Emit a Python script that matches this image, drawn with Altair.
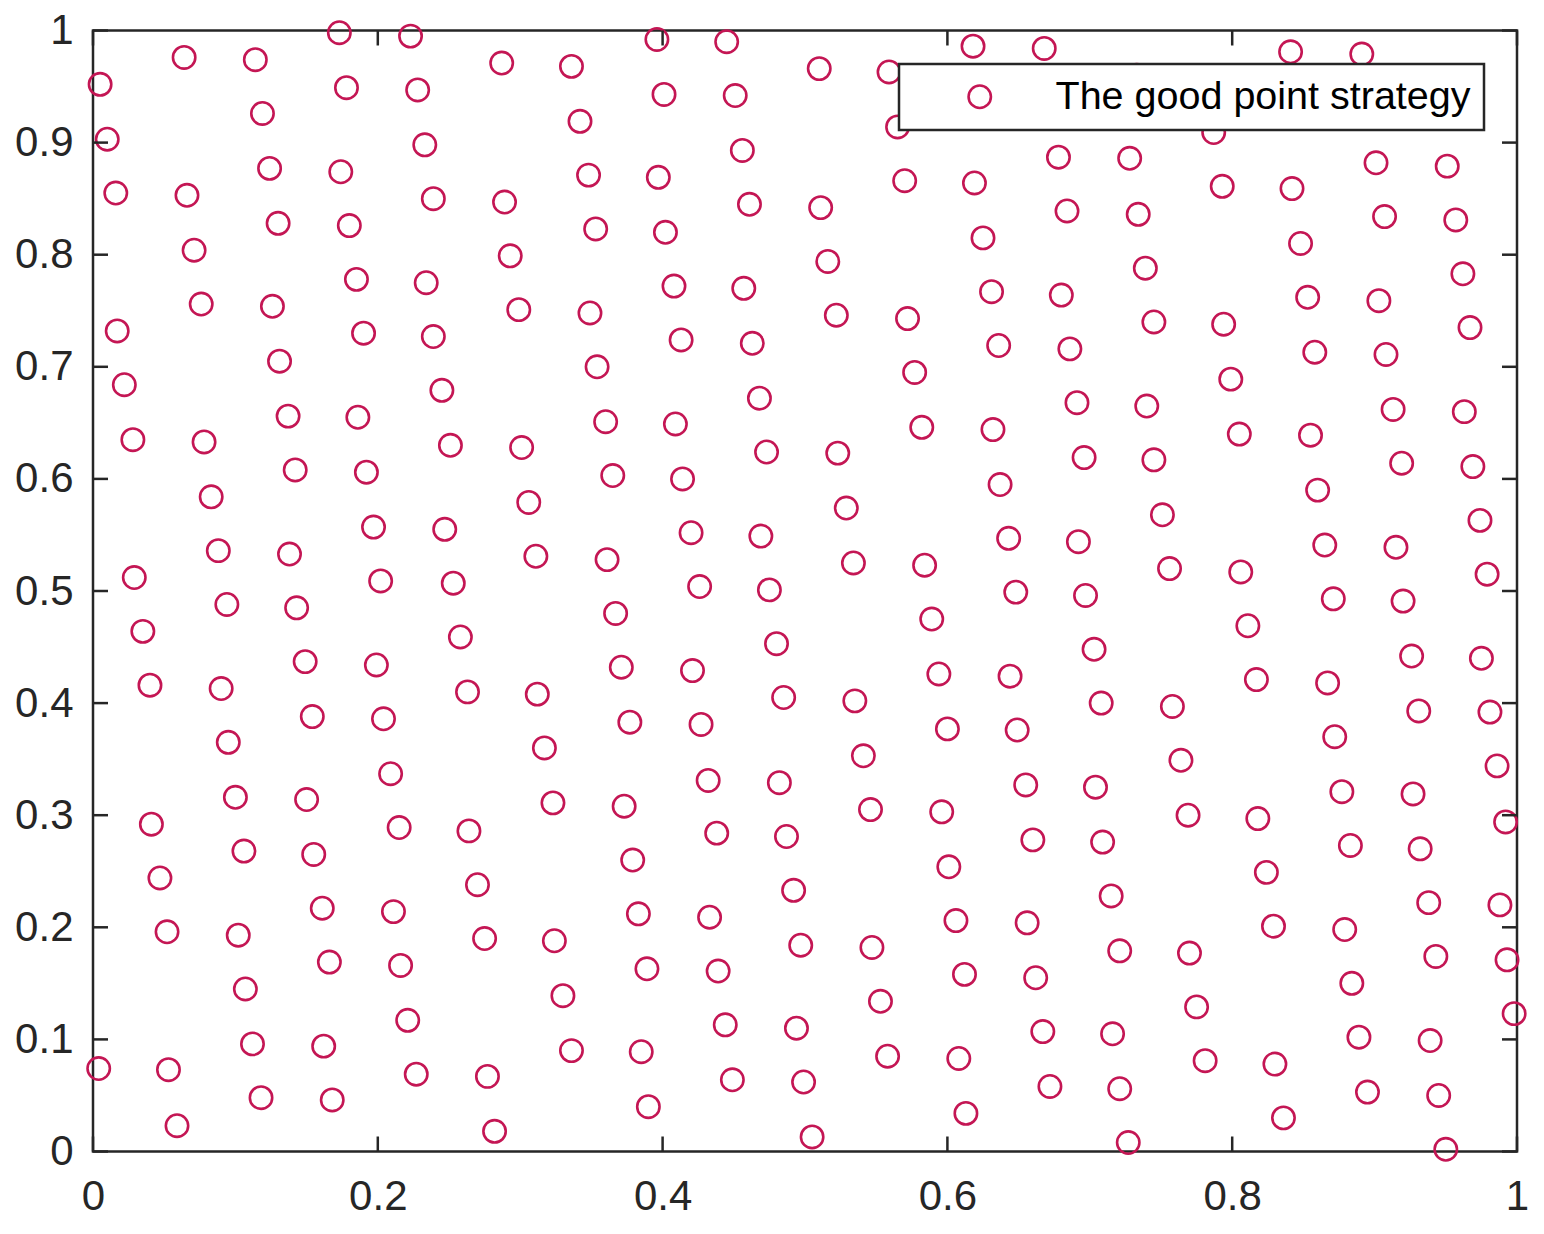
import altair as alt
import pandas as pd

series_name = "The good point strategy"

x_vals = [
    0.005, 0.010, 0.016, 0.017, 0.022, 0.028, 0.029, 0.035, 0.040, 0.041, 0.047, 0.052, 0.004, 0.053, 0.059,
    0.064, 0.066, 0.071, 0.076, 0.078, 0.083, 0.088, 0.094, 0.090, 0.095, 0.100, 0.106, 0.102, 0.107, 0.112, 0.118,
    0.114, 0.119, 0.124, 0.130, 0.126, 0.131, 0.137, 0.142, 0.138, 0.143, 0.149, 0.154, 0.150, 0.155, 0.161, 0.166, 0.162, 0.168,
    0.173, 0.178, 0.174, 0.180, 0.185, 0.190, 0.186, 0.192, 0.197, 0.202, 0.199, 0.204, 0.209, 0.215, 0.211, 0.216, 0.221, 0.227,
    0.223, 0.228, 0.233, 0.239, 0.234, 0.239, 0.245, 0.251, 0.247, 0.253, 0.258, 0.263, 0.264, 0.270, 0.275, 0.277, 0.282,
    0.287, 0.289, 0.293, 0.299, 0.301, 0.306, 0.311, 0.312, 0.317, 0.323, 0.324, 0.330, 0.336,
    0.336, 0.342, 0.348, 0.353, 0.349, 0.354, 0.360, 0.365, 0.361, 0.367, 0.371, 0.377, 0.373, 0.379, 0.383, 0.389, 0.385, 0.390,
    0.396, 0.401, 0.397, 0.402, 0.408, 0.413, 0.409, 0.414, 0.420, 0.426, 0.421, 0.427, 0.432, 0.438, 0.433, 0.439, 0.444, 0.449,
    0.445, 0.451, 0.456, 0.461, 0.457, 0.463, 0.468, 0.473, 0.469, 0.475, 0.480, 0.485, 0.482, 0.487, 0.492, 0.497, 0.494, 0.499,
    0.510, 0.511, 0.516, 0.522, 0.523, 0.529, 0.534, 0.535, 0.541, 0.546, 0.547, 0.553, 0.558, 0.505,
    0.559, 0.565, 0.570, 0.572, 0.577, 0.582, 0.584, 0.589, 0.594, 0.600, 0.596, 0.601, 0.606, 0.612, 0.608, 0.613,
    0.618, 0.619, 0.625, 0.631, 0.636, 0.632, 0.637, 0.643, 0.648, 0.644, 0.649, 0.655, 0.660, 0.656, 0.662, 0.667, 0.672,
    0.668, 0.678, 0.684, 0.680, 0.686, 0.691, 0.696, 0.692, 0.697, 0.703, 0.708, 0.704, 0.709, 0.715, 0.721, 0.716, 0.721, 0.727,
    0.733, 0.728, 0.734, 0.739, 0.745, 0.740, 0.745, 0.751, 0.756, 0.758, 0.764, 0.769, 0.770, 0.775, 0.781,
    0.787, 0.793, 0.794, 0.799, 0.805, 0.806, 0.811, 0.817, 0.818, 0.824, 0.829, 0.830, 0.836,
    0.841, 0.842, 0.848, 0.853, 0.858, 0.855, 0.860, 0.865, 0.871, 0.867, 0.872, 0.877, 0.883, 0.879, 0.884, 0.889, 0.895,
    0.891, 0.901, 0.907, 0.903, 0.908, 0.913, 0.919, 0.915, 0.920, 0.926, 0.931, 0.927, 0.932, 0.938, 0.943, 0.939, 0.945,
    0.951, 0.957, 0.962, 0.967, 0.963, 0.969, 0.974, 0.979, 0.975, 0.981, 0.986, 0.992, 0.988, 0.993, 0.998, 0.950,
]

y_vals = [
    0.952, 0.903, 0.855, 0.732, 0.684, 0.635, 0.512, 0.464, 0.416, 0.292, 0.244, 0.196, 0.074, 0.073, 0.023,
    0.976, 0.853, 0.804, 0.756, 0.633, 0.584, 0.536, 0.488, 0.413, 0.365, 0.316, 0.268, 0.193, 0.145, 0.096, 0.048,
    0.974, 0.926, 0.877, 0.828, 0.754, 0.705, 0.656, 0.608, 0.533, 0.485, 0.437, 0.388, 0.314, 0.265, 0.217, 0.169, 0.094, 0.046,
    0.998, 0.949, 0.874, 0.826, 0.778, 0.730, 0.655, 0.606, 0.557, 0.509, 0.434, 0.386, 0.337, 0.289, 0.214, 0.166, 0.117, 0.069,
    0.995, 0.947, 0.898, 0.850, 0.775, 0.727, 0.679, 0.630, 0.555, 0.507, 0.459, 0.410, 0.286, 0.238, 0.190, 0.067, 0.018,
    0.971, 0.847, 0.799, 0.751, 0.628, 0.579, 0.531, 0.408, 0.360, 0.311, 0.188, 0.139, 0.090,
    0.968, 0.919, 0.871, 0.823, 0.748, 0.700, 0.651, 0.603, 0.528, 0.480, 0.432, 0.383, 0.308, 0.260, 0.212, 0.163, 0.089, 0.040,
    0.992, 0.943, 0.869, 0.820, 0.772, 0.724, 0.649, 0.600, 0.552, 0.504, 0.429, 0.381, 0.331, 0.284, 0.209, 0.161, 0.113, 0.064,
    0.990, 0.942, 0.893, 0.845, 0.770, 0.721, 0.672, 0.624, 0.549, 0.501, 0.453, 0.405, 0.329, 0.281, 0.233, 0.184, 0.110, 0.062,
    0.966, 0.842, 0.794, 0.746, 0.623, 0.574, 0.525, 0.402, 0.353, 0.305, 0.182, 0.134, 0.085, 0.013,
    0.963, 0.914, 0.866, 0.743, 0.695, 0.646, 0.523, 0.475, 0.426, 0.377, 0.303, 0.254, 0.206, 0.158, 0.083, 0.034,
    0.986, 0.864, 0.815, 0.767, 0.719, 0.644, 0.595, 0.547, 0.499, 0.424, 0.376, 0.327, 0.278, 0.204, 0.155, 0.107, 0.058,
    0.984, 0.887, 0.839, 0.764, 0.716, 0.668, 0.619, 0.544, 0.496, 0.448, 0.400, 0.325, 0.276, 0.228, 0.179, 0.105, 0.056, 0.008,
    0.960, 0.886, 0.836, 0.788, 0.740, 0.665, 0.617, 0.568, 0.520, 0.397, 0.349, 0.300, 0.177, 0.129, 0.081,
    0.909, 0.861, 0.738, 0.689, 0.640, 0.517, 0.469, 0.421, 0.297, 0.249, 0.201, 0.078, 0.030,
    0.981, 0.859, 0.810, 0.762, 0.713, 0.639, 0.590, 0.541, 0.493, 0.418, 0.370, 0.321, 0.273, 0.198, 0.150, 0.102, 0.053,
    0.979, 0.882, 0.834, 0.759, 0.711, 0.662, 0.614, 0.539, 0.491, 0.442, 0.393, 0.319, 0.270, 0.222, 0.174, 0.099, 0.050,
    0.879, 0.831, 0.783, 0.735, 0.660, 0.611, 0.563, 0.515, 0.440, 0.392, 0.344, 0.294, 0.220, 0.171, 0.123, 0.002,
]

x_ticks = [0, 0.2, 0.4, 0.6, 0.8, 1]
y_ticks = [0, 0.1, 0.2, 0.3, 0.4, 0.5, 0.6, 0.7, 0.8, 0.9, 1]

MARKER_COLOR = "#C41654"
AXIS_COLOR = "#262626"
FONT = "Liberation Sans"
W, H = 1424, 1121
TL = 15

points = pd.DataFrame({"x": x_vals, "y": y_vals, "series": [series_name] * len(x_vals)})
xt = pd.DataFrame({"t": x_ticks})
yt = pd.DataFrame({"t": y_ticks})

x_scale = alt.Scale(domain=[0, 1], nice=False, zero=False)
y_scale = alt.Scale(domain=[0, 1], nice=False, zero=False)
x_axis = alt.Axis(values=x_ticks, format="~g", labelPadding=25, labelFlush=False)
y_axis = alt.Axis(values=y_ticks, format="~g", labelPadding=20, labelFlush=False)

pts = alt.Chart(points).mark_point(
    shape="circle", filled=False, size=500, strokeWidth=2.6, opacity=1
).encode(
    x=alt.X("x:Q", scale=x_scale, title=None, axis=x_axis),
    y=alt.Y("y:Q", scale=y_scale, title=None, axis=y_axis),
    color=alt.Color(
        "series:N",
        scale=alt.Scale(domain=[series_name], range=[MARKER_COLOR]),
        legend=alt.Legend(
            title=None, orient="none", legendX=806, legendY=33.5,
            fillColor="white", strokeColor=AXIS_COLOR, padding=13,
            symbolType="circle", symbolSize=500, symbolStrokeWidth=2.6,
            symbolFillColor="transparent", symbolOffset=48,
            labelOffset=56, labelFont=FONT, labelFontSize=39.5,
            labelColor="black", labelLimit=0,
        ),
    ),
)

tick_mark = dict(color=AXIS_COLOR, strokeWidth=2.5)
bottom = alt.Chart(xt).mark_rule(**tick_mark).encode(
    x=alt.X("t:Q", scale=x_scale, title=None, axis=x_axis), y=alt.value(H), y2=alt.value(H - TL))
top = alt.Chart(xt).mark_rule(**tick_mark).encode(
    x=alt.X("t:Q", scale=x_scale, title=None, axis=x_axis), y=alt.value(0), y2=alt.value(TL))
left = alt.Chart(yt).mark_rule(**tick_mark).encode(
    y=alt.Y("t:Q", scale=y_scale, title=None, axis=y_axis), x=alt.value(0), x2=alt.value(TL))
right = alt.Chart(yt).mark_rule(**tick_mark).encode(
    y=alt.Y("t:Q", scale=y_scale, title=None, axis=y_axis), x=alt.value(W), x2=alt.value(W - TL))

chart = alt.layer(pts, bottom, top, left, right).properties(
    width=W, height=H,
    autosize=alt.AutoSizeParams(type="none"),
    padding={"left": 85, "top": 22.5, "right": 18, "bottom": 70},
    background="white",
).configure_view(
    stroke=AXIS_COLOR, strokeWidth=2.5
).configure_axis(
    domain=False, ticks=False, grid=False,
    labelFont=FONT, labelFontSize=42, labelColor=AXIS_COLOR,
).configure_legend(
    strokeWidth=2.5
)

chart.save("out.html", embed_options={"renderer": "svg", "actions": False})
